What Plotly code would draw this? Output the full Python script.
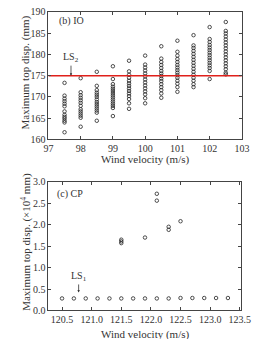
import plotly.graph_objects as go
from plotly.subplots import make_subplots

W, H = 267, 339

# ---- Panel (b) IO data: wind velocity columns and max top displacement (mm)
io_velocity = [97.5, 98.0, 98.5, 99.0, 99.5, 100.0, 100.5, 101.0, 101.5, 102.0, 102.5]
io_disp = [
    [161.7, 164.0, 164.4, 164.9, 165.3, 165.8, 166.6, 167.8, 168.4, 169.0, 169.6, 170.3, 173.3],
    [163.0, 165.1, 165.6, 166.1, 166.6, 167.1, 167.9, 168.6, 169.2, 169.8, 170.4, 171.1, 174.4],
    [164.4, 166.3, 166.8, 167.3, 167.8, 168.3, 168.8, 169.4, 170.0, 170.5, 171.0, 171.6, 172.6, 175.9],
    [165.5, 167.4, 167.9, 168.4, 168.9, 169.4, 169.9, 170.4, 170.9, 171.4, 171.9, 172.4, 173.0, 174.2, 177.2],
    [167.2, 168.5, 169.5, 170.2, 170.8, 171.4, 172.0, 172.6, 173.2, 173.8, 174.5, 175.2, 176.0, 178.5],
    [168.5, 169.7, 170.6, 171.3, 172.0, 172.7, 173.4, 174.1, 174.8, 175.5, 176.2, 176.9, 177.6, 179.7],
    [169.8, 170.8, 171.6, 172.3, 173.0, 173.7, 174.3, 174.9, 175.5, 176.1, 176.8, 177.5, 178.2, 179.0, 181.9],
    [171.2, 172.3, 173.1, 173.8, 174.5, 175.1, 175.7, 176.3, 176.9, 177.5, 178.2, 178.9, 179.7, 180.6, 183.2],
    [172.3, 173.0, 173.8, 174.5, 175.2, 175.9, 176.6, 177.3, 178.0, 178.7, 179.4, 180.1, 180.8, 181.5, 182.1, 184.5],
    [174.2, 176.1, 176.8, 177.4, 178.0, 178.6, 179.2, 179.8, 180.4, 181.0, 181.6, 182.2, 182.9, 183.6, 186.4],
    [175.3, 175.7, 176.5, 177.2, 177.9, 178.6, 179.3, 180.0, 180.7, 181.4, 182.1, 182.8, 183.5, 184.2, 184.9, 185.5, 187.6],
]
io_threshold = 175.0
io_xticks = [97, 98, 99, 100, 101, 102, 103]
io_yticks = [160, 165, 170, 175, 180, 185, 190]

# ---- Panel (c) CP data: max top displacement (x10^4 mm)
cp_velocity = [120.5, 120.7, 120.9, 121.1, 121.3, 121.5, 121.7, 121.9, 122.1, 122.3,
               122.5, 122.7, 122.9, 123.1, 123.3]
cp_base = [0.28, 0.28, 0.28, 0.28, 0.28, 0.28, 0.28, 0.28, 0.28, 0.28,
           0.29, 0.29, 0.29, 0.29, 0.29]
cp_extra_velocity = [121.5, 121.5, 121.5, 121.9, 122.1, 122.1, 122.3, 122.3, 122.5]
cp_extra_disp = [1.57, 1.61, 1.65, 1.70, 2.56, 2.72, 1.88, 1.95, 2.08]
cp_xticks = [120.5, 121.0, 121.5, 122.0, 122.5, 123.0, 123.5]
cp_yticks = [0.0, 0.5, 1.0, 1.5, 2.0, 2.5, 3.0]

FONT = "Liberation Serif"
marker = dict(symbol="circle-open", size=3.5, color="#222", line=dict(width=0.8, color="#222"))

fig = make_subplots(rows=2, cols=1)

xs, ys = [], []
for v, col in zip(io_velocity, io_disp):
    xs += [v] * len(col)
    ys += col
fig.add_trace(go.Scatter(x=xs, y=ys, mode="markers", marker=marker, showlegend=False), row=1, col=1)
fig.add_trace(go.Scatter(x=[io_xticks[0], io_xticks[-1]], y=[io_threshold, io_threshold], mode="lines",
                         line=dict(color="#e0201b", width=1.5), showlegend=False), row=1, col=1)

fig.add_trace(go.Scatter(x=cp_velocity + cp_extra_velocity, y=cp_base + cp_extra_disp, mode="markers",
                         marker=marker, showlegend=False), row=2, col=1)

def px_x(p):
    return p / W

def px_y(p):
    return 1 - p / H

axis_common = dict(showgrid=False, zeroline=False, showline=True, linecolor="#444", linewidth=1,
                   mirror="ticks", ticks="inside", ticklen=3, tickcolor="#444",
                   tickfont=dict(family=FONT, size=10, color="#333"))

fig.update_xaxes(**axis_common)
fig.update_yaxes(**axis_common)

fig.update_layout(
    xaxis=dict(domain=[px_x(46), px_x(251)], range=[97, 103], tickvals=io_xticks),
    yaxis=dict(domain=[px_y(139), px_y(7)], range=[160, 190], tickvals=io_yticks),
    xaxis2=dict(domain=[px_x(46), px_x(250)], range=[120.27, 123.52], tickvals=cp_xticks,
                tickformat=".1f"),
    yaxis2=dict(domain=[px_y(315.7), px_y(182.7)], range=[0, 3.0], tickvals=cp_yticks,
                tickformat=".1f"),
    width=W, height=H, margin=dict(l=0, r=0, t=0, b=0),
    paper_bgcolor="white", plot_bgcolor="white",
    font=dict(family=FONT, size=10, color="#333"),
)

ann_font = dict(family=FONT, size=10, color="#333")
fig.add_annotation(text="(b) IO", x=px_x(55), y=px_y(17), xref="paper", yref="paper",
                   xanchor="left", yanchor="middle", showarrow=False, font=ann_font)
fig.add_annotation(text="LS<sub>2</sub>", x=97.7, y=io_threshold, xref="x", yref="y",
                   showarrow=True, ax=0, ay=-18, arrowhead=2, arrowsize=0.6, arrowwidth=0.8,
                   arrowcolor="#333", font=ann_font)
fig.add_annotation(text="(c) CP", x=px_x(53), y=px_y(195), xref="paper", yref="paper",
                   xanchor="left", yanchor="middle", showarrow=False, font=ann_font)
fig.add_annotation(text="LS<sub>1</sub>", x=120.78, y=0.42, xref="x2", yref="y2",
                   showarrow=True, ax=0, ay=-16, arrowhead=2, arrowsize=0.6, arrowwidth=0.8,
                   arrowcolor="#333", font=ann_font)

title_font = dict(family=FONT, size=11, color="#333")
fig.add_annotation(text="Wind velocity (m/s)", x=px_x(148), y=px_y(160), xref="paper", yref="paper",
                   showarrow=False, font=title_font, xanchor="center", yanchor="middle")
fig.add_annotation(text="Wind velocity (m/s)", x=px_x(148), y=px_y(332), xref="paper", yref="paper",
                   showarrow=False, font=title_font, xanchor="center", yanchor="top")
fig.add_annotation(text="Maximum top disp. (mm)", x=px_x(22), y=px_y(70), xref="paper", yref="paper",
                   showarrow=False, font=title_font, textangle=-90, xanchor="center", yanchor="middle")
fig.add_annotation(text="Maximum top disp. (×10<sup>4</sup> mm)", x=px_x(22), y=px_y(245), xref="paper",
                   yref="paper", showarrow=False, font=title_font, textangle=-90,
                   xanchor="center", yanchor="middle")

fig.write_html("out.html")
